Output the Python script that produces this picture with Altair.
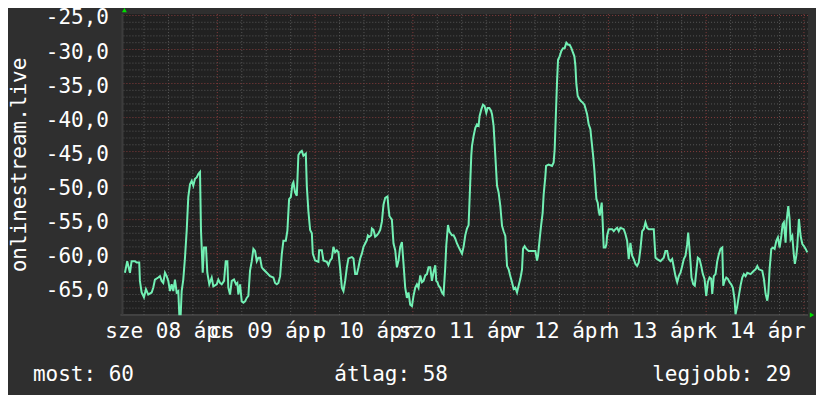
import altair as alt
import pandas as pd

# hours since 08 Apr 00:00
hours = [1.32,1.88,2.55,2.96,3.78,4.19,4.83,5.00,5.42,5.99,6.48,7.04,7.88,8.27,8.69,9.50,9.92,10.34,10.73,11.15,
         11.57,11.96,12.38,12.79,13.19,13.60,14.02,14.42,14.66,15.01,15.25,15.64,16.06,16.48,16.87,17.29,17.71,18.10,18.52,18.94,
         19.33,19.75,19.99,20.41,20.73,21.22,21.54,22.03,22.62,23.02,23.85,24.25,24.66,25.08,25.65,26.06,26.46,26.70,27.12,27.54,
         28.10,28.59,28.91,29.16,29.58,29.99,30.39,30.81,31.22,31.62,32.03,32.45,32.85,33.26,33.68,34.07,34.49,34.91,35.30,36.14,
         36.95,37.76,38.18,38.60,38.99,39.41,39.82,40.22,40.81,41.20,41.62,42.04,42.43,42.68,43.09,43.51,43.90,44.32,44.74,45.13,
         45.72,45.97,46.36,46.78,47.20,47.44,48.01,48.82,48.99,49.65,50.05,50.88,51.27,51.69,52.11,52.50,52.92,53.34,53.73,54.15,
         54.57,54.96,55.38,55.80,56.19,57.03,57.42,57.84,58.26,58.65,59.07,59.48,59.88,60.29,60.71,60.96,61.35,61.77,61.94,62.33,
         62.75,63.17,63.56,63.98,64.40,64.79,65.21,65.77,66.02,66.26,66.85,67.25,67.67,68.08,68.48,68.89,69.31,69.71,70.12,70.54,
         70.93,71.35,71.77,72.16,72.58,73.00,73.39,73.81,74.23,74.62,75.04,75.46,75.85,76.27,76.68,77.08,77.50,77.74,78.06,78.31,
         78.72,79.14,79.53,79.95,80.20,80.62,81.01,81.60,82.00,82.41,82.83,83.22,83.64,84.06,84.45,84.87,85.28,85.68,86.10,86.34,
         86.51,86.91,87.33,87.74,88.14,88.38,88.80,89.22,89.61,90.03,90.35,90.77,91.18,91.43,91.82,92.24,92.66,93.05,93.47,93.89,
         94.28,94.70,95.12,95.51,95.93,96.34,96.74,97.15,97.57,97.96,98.38,98.80,99.04,99.44,99.86,100.42,101.25,102.07,102.48,102.73,
         103.12,103.47,103.86,104.11,104.53,104.70,105.34,106.17,106.56,106.81,107.15,107.40,107.64,108.04,108.45,108.87,109.26,109.68,110.10,110.49,
         110.91,111.33,111.65,111.90,112.14,112.46,112.88,113.30,113.69,114.11,114.35,114.77,115.16,115.58,115.83,116.25,116.57,116.81,117.06,117.38,
         117.62,117.87,118.11,118.36,118.60,118.85,119.27,119.52,119.68,120.08,120.91,121.31,121.73,122.14,122.54,122.95,123.77,124.18,124.60,124.99,
         125.41,125.83,126.22,126.64,127.06,127.45,127.87,128.29,128.68,129.10,129.51,129.91,131.14,131.56,131.97,132.79,133.59,134.01,134.43,134.82,
         135.24,135.66,136.05,136.47,136.89,137.28,137.70,138.12,138.51,138.93,139.34,139.59,139.91,140.16,140.40,140.82,141.21,141.63,141.95,142.37,
         142.78,143.18,143.60,144.02,144.41,144.83,145.24,145.49,145.88,146.30,146.72,147.11,147.53,147.95,148.19,148.51,148.93,149.32,149.74,150.15,
         150.55,150.97,151.21,151.63,152.02,152.44,152.86,153.25,153.67,154.09,154.90,155.71,156.13,156.55,156.94,157.77,158.17,158.59,159.00,159.25,
         159.57,159.99,160.38,160.80,161.22,161.61,162.03,162.45,162.77,163.08,163.50,163.74,164.16,164.48,164.73,165.14,165.54,165.78,166.13,166.37,
         166.77,167.19,167.61,168.00,168.42,168.83]
values = [-62.8,-61.1,-62.8,-61.1,-61.1,-61.3,-61.3,-64.0,-65.7,-66.4,-65.2,-66.0,-65.7,-65.0,-63.8,-63.5,-63.3,-64.0,-64.3,-62.8,
          -63.3,-64.0,-65.5,-64.5,-65.5,-63.8,-65.7,-65.5,-68.9,-68.9,-65.5,-63.8,-60.6,-56.6,-51.7,-49.8,-49.3,-50.0,-49.0,-48.8,
          -48.3,-48.0,-56.6,-62.8,-59.1,-59.1,-62.8,-64.5,-63.5,-64.8,-64.5,-63.8,-64.3,-64.5,-64.0,-61.1,-61.1,-65.0,-66.0,-64.0,
          -63.8,-64.5,-64.3,-66.0,-64.5,-67.0,-67.2,-67.0,-66.5,-66.2,-62.5,-61.1,-59.3,-59.6,-61.1,-60.6,-60.6,-62.0,-62.3,-62.8,
          -63.3,-63.5,-64.3,-64.5,-64.3,-63.3,-60.1,-58.1,-58.1,-56.6,-52.0,-51.7,-49.8,-49.5,-51.0,-51.5,-45.5,-45.1,-44.9,-45.6,
          -45.3,-50.1,-53.8,-56.5,-57.0,-60.0,-61.0,-61.2,-59.5,-59.5,-61.0,-61.2,-61.7,-61.0,-60.7,-59.0,-59.8,-59.5,-59.8,-62.2,
          -65.0,-65.5,-64.0,-62.0,-60.7,-60.5,-60.7,-63.0,-63.0,-62.0,-60.7,-60.0,-59.0,-58.5,-58.0,-57.3,-57.5,-57.3,-56.3,-56.5,
          -57.5,-57.3,-57.0,-56.5,-55.3,-52.8,-51.8,-51.6,-53.3,-54.5,-55.0,-58.5,-59.5,-62.0,-61.0,-59.0,-58.3,-61.5,-65.0,-66.5,
          -65.7,-67.5,-67.7,-66.2,-65.0,-64.5,-65.0,-63.2,-64.2,-64.0,-63.2,-63.0,-62.0,-62.0,-64.0,-62.7,-61.7,-64.0,-64.2,-64.7,
          -65.0,-65.7,-66.0,-62.0,-58.8,-55.8,-56.8,-57.3,-57.3,-57.8,-58.5,-59.0,-59.5,-60.0,-59.0,-57.3,-56.3,-55.8,-49.3,-45.6,
          -44.2,-42.7,-41.5,-41.0,-41.2,-39.8,-38.8,-38.1,-38.3,-39.3,-38.6,-38.6,-39.0,-39.5,-41.2,-45.6,-50.0,-51.0,-53.0,-55.9,
          -56.7,-57.4,-61.8,-62.3,-63.3,-64.2,-65.2,-65.0,-65.7,-64.7,-63.7,-62.3,-59.3,-58.9,-59.3,-59.6,-59.6,-59.6,-61.0,-60.3,
          -57.9,-55.9,-54.0,-51.3,-48.6,-47.1,-46.9,-47.1,-46.6,-44.7,-38.8,-34.6,-31.5,-31.0,-30.2,-29.8,-29.8,-29.0,-29.3,-29.3,
          -29.8,-30.5,-31.0,-32.4,-35.1,-36.8,-37.3,-37.6,-37.8,-38.1,-38.6,-39.5,-41.0,-41.7,-43.2,-45.6,-47.8,-50.0,-52.0,-52.5,
          -53.7,-54.4,-53.5,-52.5,-55.4,-59.1,-59.1,-58.6,-57.4,-56.4,-56.4,-56.7,-56.4,-56.2,-56.7,-56.2,-56.4,-57.1,-58.1,-60.8,
          -58.4,-60.3,-60.8,-61.5,-61.8,-61.3,-59.3,-56.7,-56.4,-55.4,-56.2,-56.4,-56.4,-60.6,-60.8,-61.1,-60.6,-59.6,-59.6,-60.8,
          -61.1,-60.8,-62.0,-63.3,-64.2,-63.3,-62.8,-61.8,-60.8,-60.3,-58.6,-56.9,-59.3,-61.3,-63.5,-64.5,-64.7,-62.3,-60.6,-60.8,
          -61.8,-63.0,-63.7,-66.2,-64.2,-63.5,-63.7,-65.9,-63.3,-63.0,-61.1,-60.1,-59.3,-59.1,-64.7,-64.0,-63.5,-63.7,-64.2,-64.5,
          -65.0,-66.7,-68.9,-67.7,-66.2,-64.7,-63.5,-63.0,-63.3,-62.8,-63.0,-62.5,-62.3,-61.8,-62.3,-62.5,-63.7,-65.9,-66.9,-65.9,
          -62.3,-59.3,-59.1,-59.3,-58.1,-57.6,-59.1,-57.4,-55.7,-55.4,-58.4,-55.2,-53.0,-54.9,-57.9,-57.4,-60.3,-61.5,-60.3,-58.9,
          -54.9,-57.4,-58.6,-58.9,-59.3,-59.8]

day_labels = ["sze 08 ápr", "cs 09 ápr", "p 10 ápr", "szo 11 ápr", "v 12 ápr", "h 13 ápr", "k 14 ápr"]
label_hours = [12, 36, 60, 84, 108, 132, 156]
midnights = [24, 48, 72, 96, 120, 144, 168]
six_hours = [6, 12, 18, 30, 36, 42, 54, 60, 66, 78, 84, 90, 102, 108, 114, 126, 132, 138, 150, 156, 162]
y_major = [-65, -60, -55, -50, -45, -40, -35, -30, -25]
y_major_labels = ["-65,0", "-60,0", "-55,0", "-50,0", "-45,0", "-40,0", "-35,0", "-30,0", "-25,0"]
y_minor = [v for v in range(-68, -24) if v % 5 != 0]
y_title = "onlinestream.live"
legend_texts = ["most: 60", "átlag: 58", "legjobb: 29"]

X_DOM = [0.95, 169.0]
Y_DOM = [-69.0, -24.8]
FONT = "DejaVu Sans Mono"
FS = 21
W, H = 685, 301

xs = alt.Scale(domain=X_DOM, nice=False, zero=False)
ys = alt.Scale(domain=Y_DOM, nice=False, zero=False)

df = pd.DataFrame({"h": hours, "v": values})

MINOR = "#575757"
MAJOR = "#883c3c"

ygrid_minor = alt.Chart(pd.DataFrame({"v": y_minor})).mark_rule(
    color=MINOR, strokeWidth=1, strokeDash=[1, 2]).encode(y=alt.Y("v:Q", scale=ys, axis=None))
ygrid_major = alt.Chart(pd.DataFrame({"v": y_major})).mark_rule(
    color=MAJOR, strokeWidth=1, strokeDash=[1, 2]).encode(y=alt.Y("v:Q", scale=ys, axis=None))
xgrid_minor = alt.Chart(pd.DataFrame({"h": six_hours})).mark_rule(
    color=MINOR, strokeWidth=1, strokeDash=[1, 2]).encode(x=alt.X("h:Q", scale=xs, axis=None))
xgrid_major = alt.Chart(pd.DataFrame({"h": midnights})).mark_rule(
    color=MAJOR, strokeWidth=1, strokeDash=[1, 2]).encode(x=alt.X("h:Q", scale=xs, axis=None))

bottom_line = alt.Chart(pd.DataFrame({"a": [0]})).mark_rule(color="#5a5a5a", strokeWidth=1).encode(
    x=alt.value(-3), x2=alt.value(W), y=alt.value(H))
left_line = alt.Chart(pd.DataFrame({"a": [0]})).mark_rule(color="#3c3c3c", strokeWidth=2).encode(
    x=alt.value(-1), y=alt.value(0), y2=alt.value(H))

line = alt.Chart(df).mark_line(color="#72f0b4", strokeWidth=2, interpolate="linear").encode(
    x=alt.X("h:Q", scale=xs, axis=None),
    y=alt.Y("v:Q", scale=ys, axis=None),
)

xlabels = alt.Chart(pd.DataFrame({"h": label_hours, "t": day_labels})).mark_text(
    font=FONT, fontSize=FS, color="#ffffff", align="center", baseline="alphabetic").encode(
    x=alt.X("h:Q", scale=xs, axis=None), y=alt.value(H + 23), text="t:N")

ylabels = alt.Chart(pd.DataFrame({"v": y_major, "t": y_major_labels})).mark_text(
    font=FONT, fontSize=FS, color="#ffffff", align="right", baseline="middle", dy=3).encode(
    y=alt.Y("v:Q", scale=ys, axis=None), x=alt.value(-14.5), text="t:N")

title = alt.Chart(pd.DataFrame({"t": [y_title]})).mark_text(
    angle=270, font=FONT, fontSize=FS, color="#ffffff", align="center", baseline="middle").encode(
    text="t:N", x=alt.value(-103.5), y=alt.value(151))

leg0 = alt.Chart(pd.DataFrame({"t": [legend_texts[0]]})).mark_text(
    font=FONT, fontSize=FS, color="#ffffff", align="left", baseline="alphabetic").encode(
    text="t:N", x=alt.value(-90.5), y=alt.value(367))
leg1 = alt.Chart(pd.DataFrame({"t": [legend_texts[1]]})).mark_text(
    font=FONT, fontSize=FS, color="#ffffff", align="left", baseline="alphabetic").encode(
    text="t:N", x=alt.value(211), y=alt.value(367))
leg2 = alt.Chart(pd.DataFrame({"t": [legend_texts[2]]})).mark_text(
    font=FONT, fontSize=FS, color="#ffffff", align="right", baseline="alphabetic").encode(
    text="t:N", x=alt.value(668), y=alt.value(367))

arrow_up = alt.Chart(pd.DataFrame({"a": [0]})).mark_point(
    shape="triangle-up", filled=True, color="#00dd00", size=25, opacity=1).encode(
    x=alt.value(1), y=alt.value(-4))
arrow_right = alt.Chart(pd.DataFrame({"a": [0]})).mark_point(
    shape="triangle-right", filled=True, color="#00dd00", size=25, opacity=1).encode(
    x=alt.value(689), y=alt.value(H))

chart = alt.layer(
    ygrid_minor, xgrid_minor, ygrid_major, xgrid_major, bottom_line, left_line, line,
    xlabels, ylabels, title, leg0, leg1, leg2, arrow_up, arrow_right
).properties(
    width=W, height=H,
    autosize=alt.AutoSizeParams(type="none"),
    padding={"left": 115.5, "top": 6, "right": 8, "bottom": 80},
    background="#2f2f2f",
).configure_view(fill="#212121", stroke=None)

chart.save("out.html", embed_options={"renderer": "svg", "actions": False})
